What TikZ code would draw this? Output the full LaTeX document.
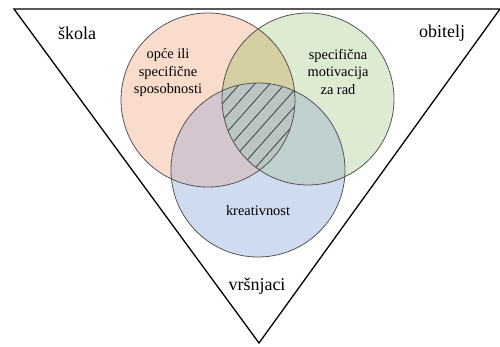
\documentclass[tikz,border=0pt]{standalone}
\usepackage{fontspec}
\setmainfont{Liberation Serif}
\newfontfamily\tnr{Liberation Serif}
\definecolor{cA}{HTML}{F9DCCB}
\definecolor{cB}{HTML}{DDEBD3}
\definecolor{cC}{HTML}{CFDBEF}
\definecolor{cAB}{HTML}{D6CFA3}
\definecolor{cAC}{HTML}{D3C6CF}
\definecolor{cBC}{HTML}{BFD0CF}
\definecolor{cABC}{HTML}{BAC6C4}
\definecolor{ring}{HTML}{555555}
\begin{document}
\begin{tikzpicture}[x=1pt,y=-1pt,
  lbl/.style={font=\tnr\fontsize{14.4}{17.5}\selectfont, align=center, inner sep=0pt},
  outer/.style={font=\tnr\fontsize{18}{21}\selectfont, inner sep=0pt},
  ringline/.style={draw=ring, line width=0.8pt},
  hatchline/.style={draw=black!75, line width=0.8pt}]
\useasboundingbox (0,0) rectangle (500,347);
% centres
\coordinate (A) at (208,100);
\coordinate (B) at (308,99);
\coordinate (C) at (258,170);
\def\rA{87}\def\rB{86}\def\rC{87}
% triangle
\coordinate (tl) at (14,9);
\coordinate (tr) at (500,9);
\coordinate (tb) at (259,343);
\draw[line width=1.3pt, line join=miter] (tr) -- (tl) -- (tb) -- (tr);
% base fills
\fill[cA] (A) circle (\rA);
\fill[cB] (B) circle (\rB);
\fill[cC] (C) circle (\rC);
\begin{scope}\clip (A) circle (\rA); \fill[cAB] (B) circle (\rB); \end{scope}
\begin{scope}\clip (A) circle (\rA); \fill[cAC] (C) circle (\rC); \end{scope}
\begin{scope}\clip (B) circle (\rB); \fill[cBC] (C) circle (\rC); \end{scope}
\begin{scope}
  \clip (A) circle (\rA);
  \clip (B) circle (\rB);
  \fill[cABC] (C) circle (\rC);
  \clip (C) circle (\rC);
  \foreach \k in {-12,...,12}{
    \draw[hatchline] (200+\k*15,230) -- (200+\k*15+160,50);
  }
\end{scope}
% outlines
\draw[ringline] (A) circle (\rA);
\draw[ringline] (B) circle (\rB);
\draw[ringline] (C) circle (\rC);
% labels
\node[outer] (skola) at (77,33) {škola};
\node[outer] (obitelj) at (442,33) {obitelj};
\node[lbl] (sposobnosti) at (168,73) {opće ili\\specifične\\sposobnosti};
\node[lbl] (motivacija) at (338,72) {specifična\\motivacija\\za rad};
\node[lbl] (kreativnost) at (258,211) {kreativnost};
\node[outer] (vrsnjaci) at (257,286) {vršnjaci};
\end{tikzpicture}
\end{document}
